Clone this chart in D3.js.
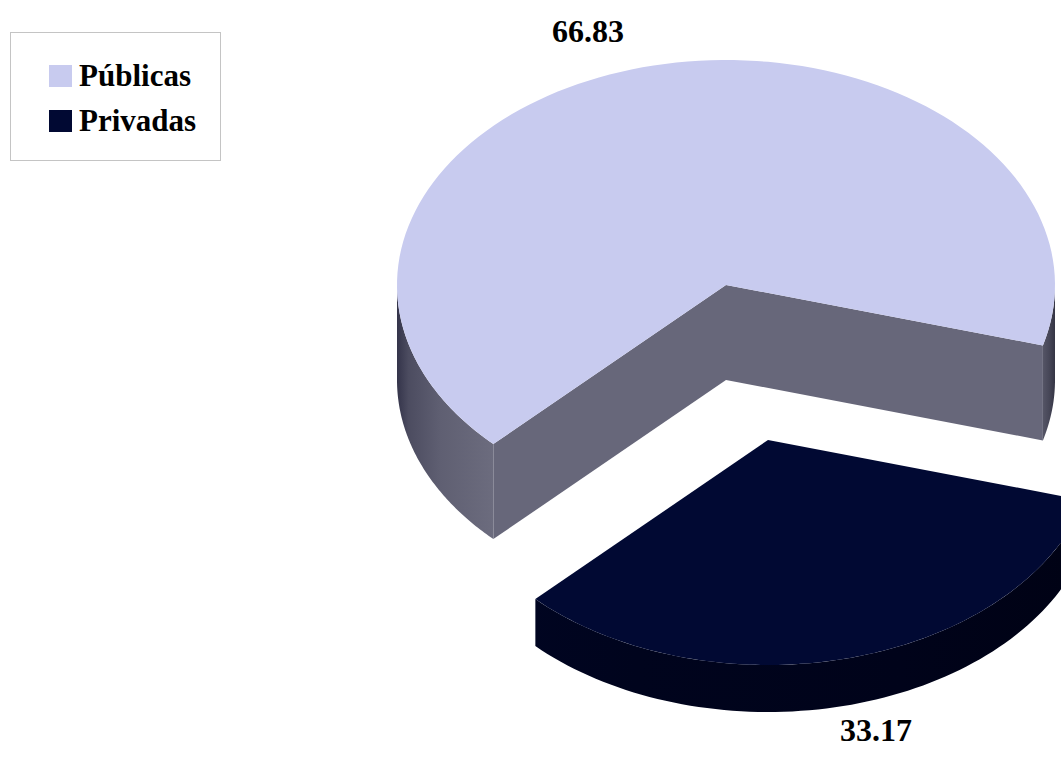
<!DOCTYPE html>
<html><head><meta charset="utf-8">
<script src="https://cdn.jsdelivr.net/npm/d3@7"></script>
<style>body{margin:0;background:#fff;overflow:hidden}svg{display:block}</style>
</head><body>
<svg id="c" width="1061" height="758"></svg>
<script>
// ---- data ----
const categories = ["Públicas", "Privadas"];
const values = [66.83, 33.17];
const labels = ["66.83", "33.17"];
const topColors = ["#c8cbef", "#010933"];

// ---- layout ----
const W = 1061, H = 758;
const cx = 726, cy = 285, rx = 329, ry = 225;
const depths = [95, 47];
const startDeg = 225;
const shifts = [[0, 0], [42, 155]];
const labelPos = [[588, 42], [876, 741]];

const svg = d3.select("#c");
const defs = svg.append("defs");

function grad(id, x1, x2, stops) {
  const g = defs.append("linearGradient").attr("id", id)
    .attr("gradientUnits", "userSpaceOnUse")
    .attr("x1", x1).attr("x2", x2).attr("y1", 0).attr("y2", 0);
  stops.forEach(s => g.append("stop").attr("offset", s[0]).attr("stop-color", s[1]));
}

const pie = d3.pie().sort(null).value(d => d)
  .startAngle(startDeg * Math.PI / 180)
  .endAngle((startDeg + 360) * Math.PI / 180);
const arcs = pie(values);

const P = (a, ox, oy, dz) => [ox + rx * Math.sin(a), oy - ry * Math.cos(a) + dz];

function topPath(d, ox, oy) {
  const n = 120, pts = [[ox, oy]];
  for (let i = 0; i <= n; i++) {
    const a = d.startAngle + (d.endAngle - d.startAngle) * i / n;
    pts.push(P(a, ox, oy, 0));
  }
  return d3.line()(pts) + "Z";
}
function sidePath(a0, a1, ox, oy, dep) {
  const n = 80, top = [], bot = [];
  for (let i = 0; i <= n; i++) {
    const a = a0 + (a1 - a0) * i / n;
    top.push(P(a, ox, oy, 0));
    bot.push(P(a, ox, oy, dep));
  }
  return d3.line()(top.concat(bot.reverse())) + "Z";
}
function frontRanges(s, e) {
  const out = [];
  for (let k = -1; k <= 2; k++) {
    const lo = Math.PI / 2 + k * 2 * Math.PI, hi = 3 * Math.PI / 2 + k * 2 * Math.PI;
    const a = Math.max(s, lo), b = Math.min(e, hi);
    if (b > a) out.push([a, b]);
  }
  return out;
}

arcs.forEach((d, i) => {
  const [dx, dy] = shifts[i];
  const ox = cx + dx, oy = cy + dy, dep = depths[i];
  const g = svg.append("g");
  if (i === 0) {
    [d.endAngle, d.startAngle].forEach(a => {
      const r = P(a, ox, oy, 0), rb = P(a, ox, oy, dep);
      g.append("path").attr("d", d3.line()([[ox, oy], r, rb, [ox, oy + dep]]) + "Z")
        .attr("fill", "#67677a");
    });
  }
  frontRanges(d.startAngle, d.endAngle).forEach((r, k) => {
    const id = "g" + i + "_" + k;
    const xa = ox + rx * Math.sin(r[0]), xb = ox + rx * Math.sin(r[1]);
    const x1 = Math.min(xa, xb), x2 = Math.max(xa, xb);
    if (i === 0) {
      if (x1 < ox) grad(id, ox - rx, x2, [[0, "#34344a"], [0.12, "#4c4c60"], [0.45, "#5f5f72"], [1, "#6c6c7e"]]);
      else grad(id, x1, ox + rx, [[0, "#555566"], [0.5, "#474758"], [1, "#343444"]]);
    } else {
      grad(id, ox - rx, ox + rx, [[0, "#000524"], [0.3, "#00041d"], [0.7, "#00031a"], [1, "#000214"]]);
    }
    g.append("path").attr("d", sidePath(r[0], r[1], ox, oy, dep)).attr("fill", `url(#${id})`);
  });
  g.append("path").attr("d", topPath(d, ox, oy)).attr("fill", topColors[i]);
});

// labels
svg.selectAll("text.lbl").data(labels).join("text").attr("class", "lbl")
  .attr("x", (d, i) => labelPos[i][0]).attr("y", (d, i) => labelPos[i][1])
  .attr("text-anchor", "middle")
  .attr("font-family", "Liberation Serif, Times New Roman, serif")
  .attr("font-weight", "bold").attr("font-size", 32).attr("fill", "#000")
  .text(d => d);

// legend
const lg = svg.append("g");
lg.append("rect").attr("x", 10.5).attr("y", 32.5).attr("width", 210).attr("height", 128)
  .attr("fill", "#fff").attr("stroke", "#c4c4c4");
categories.forEach((c, i) => {
  lg.append("rect").attr("x", 49).attr("y", 65 + i * 45).attr("width", 23).attr("height", 22)
    .attr("fill", topColors[i]);
  lg.append("text").attr("x", 79).attr("y", 86 + i * 45)
    .attr("font-family", "Liberation Serif, Times New Roman, serif")
    .attr("font-weight", "bold").attr("font-size", 31).text(c);
});
</script>
</body></html>
